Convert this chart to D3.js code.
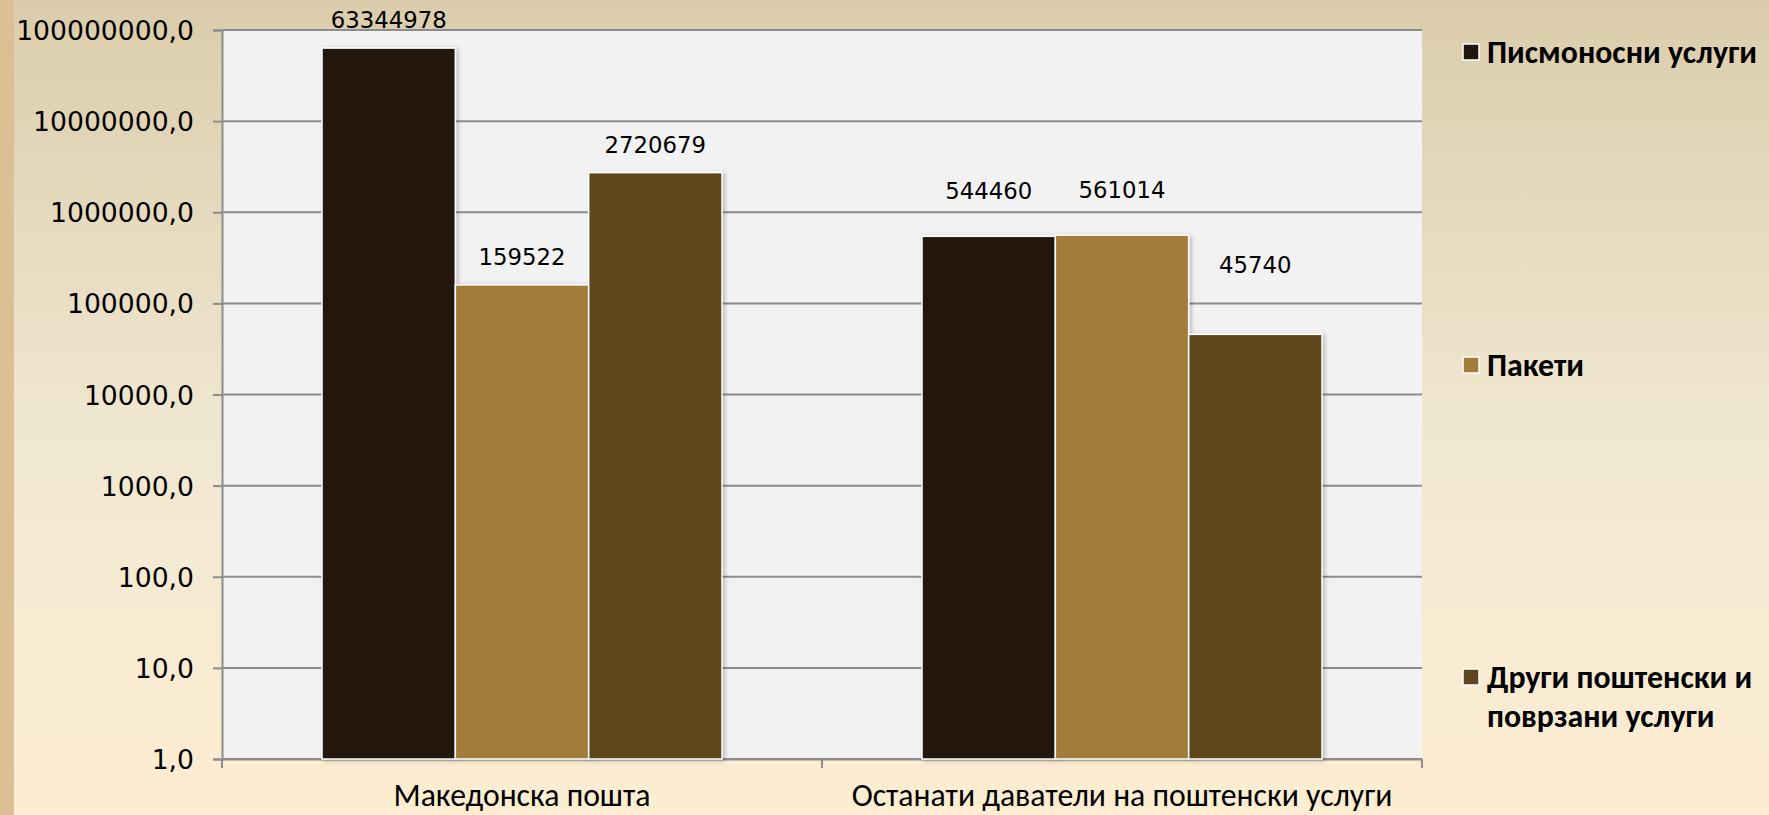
<!DOCTYPE html>
<html>
<head>
<meta charset="utf-8">
<script src="https://cdn.jsdelivr.net/npm/d3@7"></script>
<style>
  body { margin: 0; overflow: hidden; }
</style>
</head>
<body>
<div id="chart"></div>
<script>
// chart data
const categories = ["Македонска пошта", "Останати даватели на поштенски услуги"];
const seriesNames = ["Писмоносни услуги", "Пакети", "Други поштенски и поврзани услуги"];
const letterServices = [63344978, 544460];
const parcels = [159522, 561014];
const otherServices = [2720679, 45740];
const yTicks = [1, 10, 100, 1000, 10000, 100000, 1000000, 10000000, 100000000];

const colors = ["#21190d", "#a17c3a", "#5e461f"];
// how far each value label sits above its bar (labels were moved by hand in the original)
const labelLift = [[20, 20, 20], [37, 37, 61]];

const numFont = "'Century Gothic', 'DejaVu Sans', sans-serif";
const textFont = "'Calibri', 'Noto Sans', sans-serif";

const W = 1769, H = 815;
const margin = {top: 30, right: 347, bottom: 56, left: 222};
const plotW = W - margin.left - margin.right,
      plotH = H - margin.top - margin.bottom;

const svg = d3.select("#chart")
  .append("svg")
    .attr("width", W)
    .attr("height", H);

// pick a font size so that a sample string comes out at the width it has in the original
function fitSize(sample, family, weight, targetWidth) {
  const t = svg.append("text")
      .style("font-family", family)
      .style("font-weight", weight)
      .style("font-size", "100px")
      .text(sample);
  const w = t.node().getComputedTextLength();
  t.remove();
  return 100 * targetWidth / w;
}

const tickSize = fitSize("100000000,0", numFont, "normal", 178);
const valueSize = fitSize("63344978", numFont, "normal", 116);
const catSize = fitSize("Македонска пошта", textFont, "normal", 257);
const legendSize = fitSize("Писмоносни услуги", textFont, "bold", 270);

const defs = svg.append("defs");
const bg = defs.append("linearGradient")
    .attr("id", "bg")
    .attr("x1", 0).attr("y1", 0).attr("x2", 0).attr("y2", 1);
bg.append("stop").attr("offset", "0%").attr("stop-color", "#dbcdab");
bg.append("stop").attr("offset", "55%").attr("stop-color", "#f1e8d2");
bg.append("stop").attr("offset", "100%").attr("stop-color", "#fdedd1");

const shadow = defs.append("filter")
    .attr("id", "shadow")
    .attr("x", "-10%").attr("y", "-10%").attr("width", "130%").attr("height", "130%");
shadow.append("feDropShadow")
    .attr("dx", 2).attr("dy", 1)
    .attr("stdDeviation", 2)
    .attr("flood-color", "#000")
    .attr("flood-opacity", 0.25);

// page background + left stripe
svg.append("rect").attr("width", W).attr("height", H).attr("fill", "url(#bg)");
svg.append("rect").attr("width", 14).attr("height", H).attr("fill", "#dac093");

const g = svg.append("g")
    .attr("transform", `translate(${margin.left},${margin.top})`);

g.append("rect")
    .attr("width", plotW)
    .attr("height", plotH)
    .attr("fill", "#f2f2f2");

// scales
const x0 = d3.scaleBand()
    .domain(categories)
    .range([0, plotW]);

const x1 = d3.scaleBand()
    .domain(seriesNames)
    .range([0, x0.bandwidth()])
    .paddingOuter(0.75);

const y = d3.scaleLog()
    .domain([1, 100000000])
    .range([plotH, 0]);

const locale = d3.formatLocale({decimal: ",", thousands: "", grouping: [3], currency: ["", ""]});
const fmt = locale.format(".1f");

// gridlines
g.append("g")
  .selectAll("line")
  .data(yTicks)
  .join("line")
    .attr("x1", 0)
    .attr("x2", plotW)
    .attr("y1", d => y(d))
    .attr("y2", d => y(d))
    .attr("stroke", "#8c8c8c")
    .attr("stroke-width", 2);

// y axis
const yAxis = g.append("g")
    .call(d3.axisLeft(y).tickValues(yTicks).tickFormat(fmt).tickSize(9).tickPadding(19));
yAxis.select(".domain").attr("stroke", "#8c8c8c").attr("stroke-width", 2);
yAxis.selectAll(".tick line").attr("stroke", "#8c8c8c").attr("stroke-width", 2);
yAxis.selectAll(".tick text")
    .attr("fill", "#000")
    .attr("x", -28)
    .attr("dy", "0.36em")
    .style("font-family", numFont)
    .style("font-size", tickSize + "px");

// x axis
const xAxis = g.append("g")
    .attr("transform", `translate(0,${plotH})`)
    .call(d3.axisBottom(x0).tickSize(0));
xAxis.select(".domain").attr("stroke", "#8c8c8c").attr("stroke-width", 2);
xAxis.selectAll(".tick text")
    .attr("fill", "#000")
    .attr("y", 47)
    .attr("dy", 0)
    .style("font-family", textFont)
    .style("font-size", catSize + "px");

// category separator ticks
g.append("g")
  .selectAll("line")
  .data(categories.concat([null]))
  .join("line")
    .attr("x1", (d, i) => i * x0.step())
    .attr("x2", (d, i) => i * x0.step())
    .attr("y1", plotH)
    .attr("y2", plotH + 9)
    .attr("stroke", "#8c8c8c")
    .attr("stroke-width", 2);

// bars
const rows = categories.map((c, i) => ({
  category: c,
  values: [letterServices[i], parcels[i], otherServices[i]].map((v, j) => ({
    series: seriesNames[j], value: v, color: colors[j], lift: labelLift[i][j]
  }))
}));

const groups = g.selectAll(".group")
  .data(rows)
  .join("g")
    .attr("class", "group")
    .attr("transform", d => `translate(${x0(d.category)},0)`);

groups.selectAll("rect")
  .data(d => d.values)
  .join("rect")
    .attr("x", d => x1(d.series))
    .attr("y", d => y(d.value))
    .attr("width", x1.bandwidth())
    .attr("height", d => plotH - y(d.value))
    .attr("fill", d => d.color)
    .attr("stroke", "#fff")
    .attr("stroke-width", 1.5)
    .attr("filter", "url(#shadow)");

groups.selectAll(".label")
  .data(d => d.values)
  .join("text")
    .attr("class", "label")
    .attr("x", d => x1(d.series) + x1.bandwidth() / 2)
    .attr("y", d => y(d.value) - d.lift)
    .attr("text-anchor", "middle")
    .style("font-family", numFont)
    .style("font-size", valueSize + "px")
    .text(d => d.value);

// legend
const legendLines = [["Писмоносни услуги"], ["Пакети"], ["Други поштенски и", "поврзани услуги"]];
const legendY = [63, 376, 688];

const legend = svg.append("g")
  .selectAll("g")
  .data(seriesNames)
  .join("g")
    .attr("transform", (d, i) => `translate(1463,${legendY[i]})`);

legend.append("rect")
    .attr("x", 0)
    .attr("y", -19)
    .attr("width", 16)
    .attr("height", 16)
    .attr("fill", (d, i) => colors[i])
    .attr("stroke", "#fff")
    .attr("stroke-width", 1.5);

legend.append("text")
    .style("font-family", textFont)
    .style("font-weight", "bold")
    .style("font-size", legendSize + "px")
  .selectAll("tspan")
  .data((d, i) => legendLines[i])
  .join("tspan")
    .attr("x", 24)
    .attr("dy", (d, i) => i === 0 ? 0 : 39)
    .text(d => d);
</script>
</body>
</html>
